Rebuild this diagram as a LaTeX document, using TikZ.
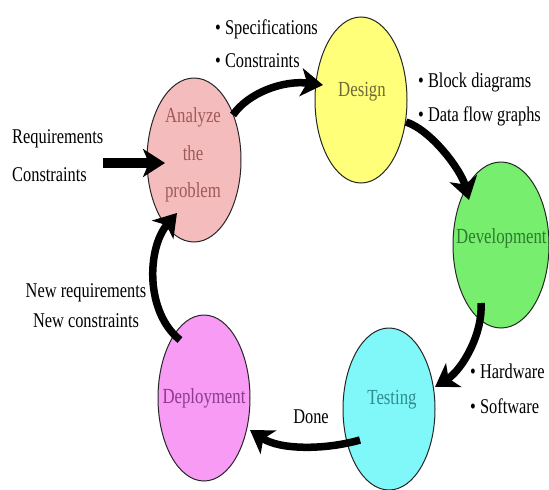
\documentclass[tikz,border=0pt]{standalone}
\usepackage{fontspec}
\setmainfont{Liberation Serif}
\newfontfamily\cond[FakeStretch=0.78]{Liberation Serif}
\usetikzlibrary{arrows.meta,shapes.geometric,calc}

% phase fills and their text colours
\definecolor{anafill}{HTML}{F4BCBC}
\definecolor{anatext}{HTML}{A05A5A}
\definecolor{desfill}{HTML}{FFFF7A}
\definecolor{destext}{HTML}{6E6A3A}
\definecolor{devfill}{HTML}{77EE6E}
\definecolor{devtext}{HTML}{2E7A2E}
\definecolor{tesfill}{HTML}{80F8FA}
\definecolor{testext}{HTML}{2F8C8C}
\definecolor{depfill}{HTML}{F79BF5}
\definecolor{deptext}{HTML}{8E3A8E}

\begin{document}
\begin{tikzpicture}[x=1pt,y=-1pt,
  phasebox/.style={ellipse, draw=black!85, line width=1pt,
    minimum width=94pt, minimum height=166pt, inner sep=0pt},
  phaselabel/.style={font=\cond\fontsize{21.5}{37.5}\selectfont, align=center, inner sep=0pt},
  sidenote/.style={font=\cond\fontsize{21}{34}\selectfont, inner sep=0pt},
  flowarrow/.style={line width=7.5pt, draw=black,
    -{Stealth[length=22pt,width=28pt,inset=6pt]}}]

\useasboundingbox[fill=white] (0,0) rectangle (549,490);

% the five phases of the cycle
\node[phasebox, fill=anafill, minimum height=164pt] (ana) at (194,160) {};
\node[phasebox, fill=desfill, minimum width=92pt] (des) at (361,100) {};
\node[phasebox, fill=devfill, minimum width=96pt] (dev) at (501,245) {};
\node[phasebox, fill=tesfill, minimum width=92pt, minimum height=162pt] (tes) at (389,409) {};
\node[phasebox, fill=depfill, minimum width=92pt] (dep) at (204,398) {};

\node[phaselabel, text=anatext] (anaT) at (193,155) {Analyze\\the\\problem};
\node[phaselabel, text=destext] (desT) at (362,92) {Design};
\node[phaselabel, text=devtext, anchor=west] (devT) at (456,238) {Development};
\node[phaselabel, text=testext] (tesT) at (392,400) {Testing};
\node[phaselabel, text=deptext] (depT) at (204,398) {Deployment};

% side notes
\node[sidenote, align=left, anchor=west, font=\cond\fontsize{21}{38}\selectfont] (req) at (12,156) {Requirements\\Constraints};
\node[sidenote, align=left, anchor=west, font=\cond\fontsize{21}{33}\selectfont] (spec) at (215,44) {• Specifications\\• Constraints};
\node[sidenote, align=left, anchor=west] (blk) at (418,99) {• Block diagrams\\• Data flow graphs};
\node[sidenote, align=left, anchor=west, font=\cond\fontsize{21}{35}\selectfont] (hw) at (470,389) {• Hardware\\• Software};
\node[sidenote] (done) at (311,417) {Done};
\node[sidenote, align=center, font=\cond\fontsize{21}{30}\selectfont] (newreq) at (86,306) {New requirements\\New constraints};

% flow between the phases
\draw[flowarrow, line width=10pt] (req.east |- 0,163) -- ($(ana.center)+(-29,3)$);
\draw[flowarrow] ($(ana.center)+(39,-45)$) .. controls +(15,-22) and +(-40,-5) .. ($(des.center)+(-38,-15)$);
\draw[flowarrow] ($(des.center)+(45,22)$) .. controls +(25,8) and +(-8,-30) .. ($(dev.center)+(-32,-45)$);
\draw[flowarrow] ($(dev.center)+(-20,58)$) .. controls +(2,30) and +(28,-18) .. ($(tes.center)+(46,-22)$);
\draw[flowarrow] ($(tes.center)+(-29,31)$) .. controls +(-35,10) and +(30,20) .. ($(dep.center)+(46,32)$);
\draw[flowarrow] ($(dep.center)+(-24,-58)$) .. controls +(-35,-28) and +(-30,35) .. ($(ana.center)+(-17,53)$);

\end{tikzpicture}
\end{document}
